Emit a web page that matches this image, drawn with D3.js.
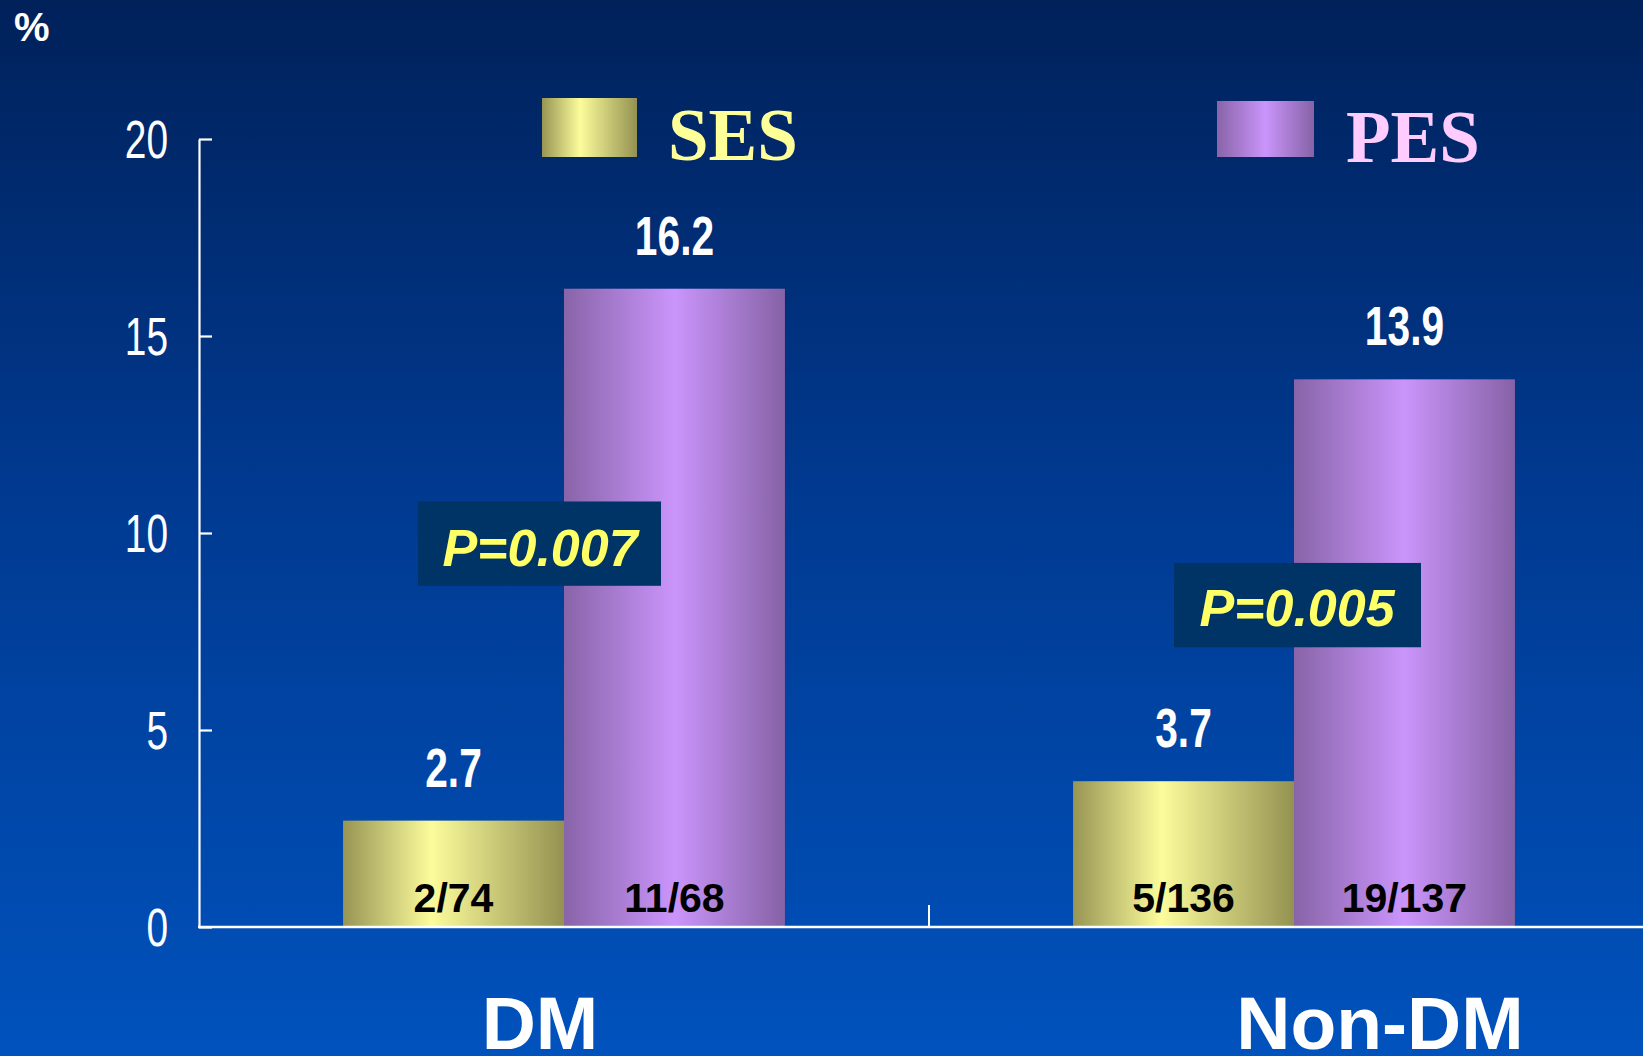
<!DOCTYPE html>
<html>
<head>
<meta charset="utf-8">
<script src="https://cdn.jsdelivr.net/npm/d3@7"></script>
<style>
  html, body { margin: 0; padding: 0; background: #0050bb; overflow: hidden; }
  svg { display: block; }
</style>
</head>
<body>
<svg id="chart" width="1643" height="1056"></svg>
<script>
// Stent thrombosis / event rates (%) by diabetic status
const groups = ["DM", "Non-DM"];
const series = ["SES", "PES"];
const sesValues = [2.7, 3.7];
const pesValues = [16.2, 13.9];
const sesCounts = ["2/74", "5/136"];
const pesCounts = ["11/68", "19/137"];
const pValues = ["P=0.007", "P=0.005"];
const yTicks = [0, 5, 10, 15, 20];

const W = 1643, H = 1056;
const svg = d3.select("#chart");
const defs = svg.append("defs");

// background: vertical navy-to-blue wash
const bg = defs.append("linearGradient").attr("id", "bg")
  .attr("x1", 0).attr("y1", 0).attr("x2", 0).attr("y2", 1);
bg.append("stop").attr("offset", "0%").attr("stop-color", "#00215a");
bg.append("stop").attr("offset", "45%").attr("stop-color", "#00398f");
bg.append("stop").attr("offset", "100%").attr("stop-color", "#0052bd");
svg.append("rect").attr("width", W).attr("height", H).attr("fill", "url(#bg)");

// horizontal cylinder-like shading for each series
function barGradient(id, edgeL, light, edgeR, lightAt) {
  const g = defs.append("linearGradient").attr("id", id)
    .attr("x1", 0).attr("y1", 0).attr("x2", 1).attr("y2", 0);
  g.append("stop").attr("offset", "0%").attr("stop-color", edgeL);
  g.append("stop").attr("offset", lightAt).attr("stop-color", light);
  g.append("stop").attr("offset", "100%").attr("stop-color", edgeR);
}
barGradient("gSES", "#979553", "#fcfc9c", "#949251", "40%");
barGradient("gPES", "#8864a8", "#ca95fb", "#8662a6", "50%");
const fills = { SES: "url(#gSES)", PES: "url(#gPES)" };

const margin = { left: 199, top: 139, bottom: 927 };
const y = d3.scaleLinear().domain([0, 20]).range([margin.bottom, margin.top]);
const x = d3.scaleBand().domain(groups).range([margin.left, margin.left + 1460]);
const xInner = d3.scaleBand().domain(series).range([0, x.bandwidth()]).paddingOuter(0.652).paddingInner(0);

const rows = groups.map((g, i) => ({
  group: g,
  bars: [
    { s: "SES", v: sesValues[i], n: sesCounts[i] },
    { s: "PES", v: pesValues[i], n: pesCounts[i] }
  ]
}));

const sans = "'Liberation Sans', Arial, sans-serif";
const serif = "'Liberation Serif', 'Times New Roman', serif";

// bars
const g = svg.selectAll("g.grp").data(rows).join("g")
  .attr("class", "grp")
  .attr("transform", d => `translate(${x(d.group)},0)`);

g.selectAll("rect").data(d => d.bars).join("rect")
  .attr("x", d => xInner(d.s))
  .attr("width", xInner.bandwidth())
  .attr("y", d => y(d.v))
  .attr("height", d => y(0) - y(d.v))
  .attr("fill", d => fills[d.s]);

// value labels above bars (condensed bold)
g.selectAll("text.val").data(d => d.bars).join("text")
  .attr("class", "val")
  .attr("transform", d => `translate(${xInner(d.s) + xInner.bandwidth() / 2},${y(d.v) - 34}) scale(0.74,1)`)
  .attr("text-anchor", "middle")
  .attr("font-family", sans).attr("font-weight", "bold").attr("font-size", 55)
  .attr("fill", "#ffffff")
  .text(d => d.v.toFixed(1));

// count labels inside bars
g.selectAll("text.cnt").data(d => d.bars).join("text")
  .attr("class", "cnt")
  .attr("x", d => xInner(d.s) + xInner.bandwidth() / 2)
  .attr("y", y(0) - 15)
  .attr("text-anchor", "middle")
  .attr("font-family", sans).attr("font-weight", "bold").attr("font-size", 41)
  .attr("fill", "#000000")
  .text(d => d.n);

// y axis with inward ticks
const yAxis = svg.append("g").attr("transform", `translate(${margin.left},0)`)
  .call(d3.axisLeft(y).tickValues(yTicks).tickSizeInner(-13).tickSizeOuter(0).tickPadding(31));
yAxis.select(".domain").attr("stroke", "#ffffff").attr("stroke-width", 2.2);
yAxis.selectAll(".tick line").attr("stroke", "#ffffff").attr("stroke-width", 2.2);
const tickScale = 0.72;
yAxis.selectAll(".tick text")
  .attr("fill", "#ffffff").attr("font-family", sans).attr("font-size", 54).attr("dy", "0.35em")
  .attr("x", -31 / tickScale)
  .attr("transform", `scale(${tickScale},1)`);

// baseline and the divider tick between groups
svg.append("line")
  .attr("x1", margin.left - 1).attr("x2", W)
  .attr("y1", y(0)).attr("y2", y(0))
  .attr("stroke", "#ffffff").attr("stroke-width", 2.4);
svg.append("line")
  .attr("x1", x("Non-DM")).attr("x2", x("Non-DM"))
  .attr("y1", y(0)).attr("y2", y(0) - 22)
  .attr("stroke", "#ffffff").attr("stroke-width", 2);

// category labels
const catLabelX = [540, 1380];
svg.selectAll("text.cat").data(groups).join("text")
  .attr("class", "cat")
  .attr("x", (d, i) => catLabelX[i])
  .attr("y", 1049)
  .attr("text-anchor", "middle")
  .attr("font-family", sans).attr("font-weight", "bold").attr("font-size", 75)
  .attr("fill", "#ffffff")
  .text(d => d);

// p-value boxes (top/bottom in axis units)
const pBox = [
  { x0: 418, x1: 661, top: 10.8, bottom: 8.66, tx: 540, ty: 566 },
  { x0: 1174, x1: 1421, top: 9.24, bottom: 7.1, tx: 1297, ty: 626 }
];
pBox.forEach((b, i) => {
  svg.append("rect")
    .attr("x", b.x0).attr("width", b.x1 - b.x0)
    .attr("y", y(b.top)).attr("height", y(b.bottom) - y(b.top))
    .attr("fill", "#003466");
  svg.append("text")
    .attr("x", b.tx).attr("y", b.ty)
    .attr("text-anchor", "middle")
    .attr("font-family", sans).attr("font-weight", "bold").attr("font-style", "italic")
    .attr("font-size", 52)
    .attr("fill", "#ffff66")
    .text(pValues[i]);
});

// legend
const legend = [
  { s: "SES", rx: 542, ry: 98, rw: 95, rh: 59, tx: 668, ty: 160, color: "#ffff99" },
  { s: "PES", rx: 1217, ry: 101, rw: 97, rh: 56, tx: 1346, ty: 162, color: "#ffccff" }
];
legend.forEach(l => {
  svg.append("rect").attr("x", l.rx).attr("y", l.ry).attr("width", l.rw).attr("height", l.rh)
    .attr("fill", fills[l.s]);
  svg.append("text").attr("x", l.tx).attr("y", l.ty)
    .attr("font-family", serif).attr("font-weight", "bold").attr("font-size", 73)
    .attr("fill", l.color)
    .text(l.s);
});

// unit label
svg.append("text").attr("x", 14).attr("y", 41)
  .attr("font-family", sans).attr("font-weight", "bold").attr("font-size", 40)
  .attr("fill", "#ffffff").text("%");
</script>
</body>
</html>
